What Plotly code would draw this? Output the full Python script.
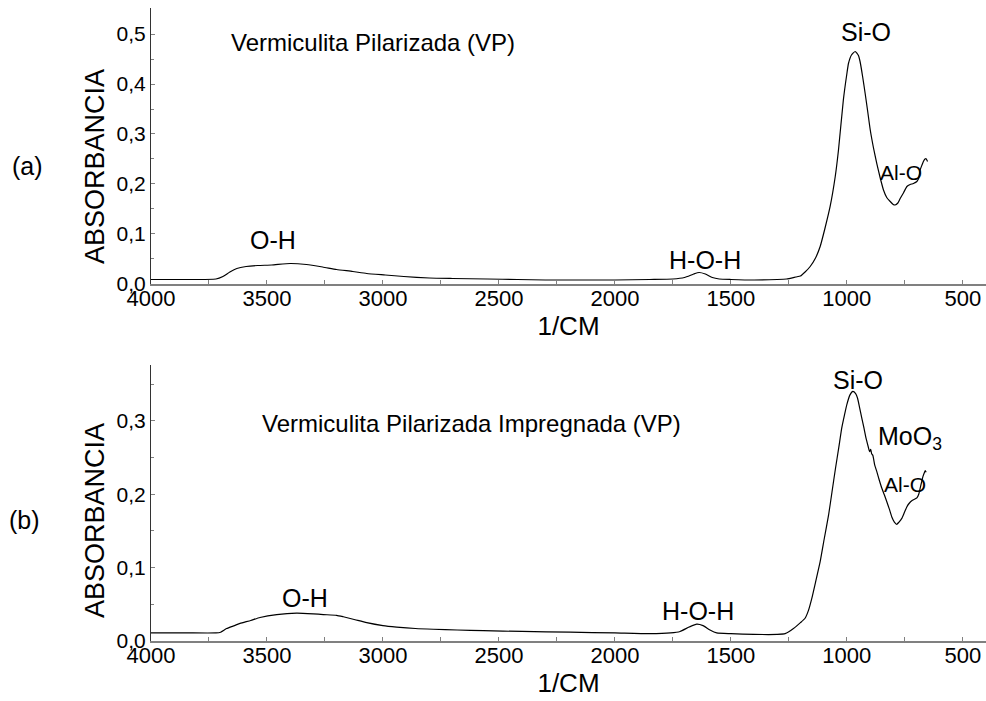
import plotly.graph_objects as go

# ---------------- data ----------------
wn_a = [4000, 3850, 3720, 3690, 3660, 3630, 3590, 3540, 3480, 3400, 3330, 3260, 3200, 3130,
        3070, 2990, 2910, 2800, 2700, 2550, 2420, 2300, 2190, 2000, 1850, 1750, 1700, 1660,
        1637, 1610, 1580, 1550, 1500, 1400, 1300, 1260, 1220, 1200, 1180, 1158, 1135, 1115,
        1095, 1072, 1050, 1036, 1015, 1000, 993, 980, 964, 950, 943, 932, 921, 910, 899, 885,
        871, 856, 842, 828, 813, 800, 792, 780, 770, 755, 741, 727, 713, 698, 690, 684, 676,
        670, 663, 659, 655, 652]
abs_a = [0.009, 0.009, 0.010, 0.015, 0.024, 0.031, 0.035, 0.037, 0.038, 0.041, 0.039, 0.034,
         0.029, 0.025, 0.021, 0.018, 0.015, 0.012, 0.011, 0.010, 0.009, 0.008, 0.008, 0.008,
         0.009, 0.010, 0.013, 0.020, 0.023, 0.020, 0.013, 0.010, 0.009, 0.008, 0.009, 0.010,
         0.014, 0.016, 0.024, 0.035, 0.052, 0.075, 0.110, 0.155, 0.215, 0.268, 0.368, 0.420,
         0.441, 0.458, 0.465, 0.457, 0.445, 0.415, 0.381, 0.345, 0.308, 0.272, 0.241, 0.212,
         0.188, 0.173, 0.165, 0.159, 0.158, 0.162, 0.171, 0.183, 0.195, 0.199, 0.201, 0.205,
         0.212, 0.228, 0.238, 0.245, 0.250, 0.251, 0.248, 0.245]

wn_b = [4000, 3850, 3720, 3700, 3674, 3640, 3616, 3570, 3530, 3458, 3372, 3300, 3257, 3200,
        3171, 3120, 3070, 3000, 2941, 2860, 2783, 2680, 2567, 2400, 2193, 2000, 1850, 1760,
        1719, 1680, 1647, 1620, 1590, 1561, 1500, 1400, 1300, 1266, 1230, 1200, 1180, 1165,
        1151, 1135, 1115, 1097, 1079, 1064, 1049, 1035, 1022, 1010, 1000, 987, 974, 962, 954,
        945, 935, 926, 917, 908, 902, 897, 893, 888, 880, 871, 860, 849, 838, 828, 817, 806,
        795, 785, 775, 763, 752, 741, 730, 720, 709, 698, 690, 684, 678, 672, 665, 662, 658]
abs_b = [0.011, 0.011, 0.011, 0.012, 0.017, 0.021, 0.024, 0.028, 0.032, 0.036, 0.038, 0.037,
         0.036, 0.035, 0.033, 0.029, 0.025, 0.021, 0.019, 0.017, 0.016, 0.015, 0.014, 0.013,
         0.012, 0.011, 0.010, 0.011, 0.013, 0.019, 0.023, 0.021, 0.015, 0.011, 0.010, 0.009,
         0.009, 0.010, 0.017, 0.025, 0.031, 0.042, 0.058, 0.080, 0.108, 0.140, 0.171, 0.203,
         0.235, 0.263, 0.290, 0.308, 0.322, 0.335, 0.340, 0.337, 0.331, 0.318, 0.303, 0.290,
         0.276, 0.265, 0.258, 0.261, 0.255, 0.253, 0.240, 0.231, 0.219, 0.208, 0.199, 0.190,
         0.180, 0.169, 0.162, 0.159, 0.162, 0.167, 0.175, 0.183, 0.188, 0.191, 0.193, 0.195,
         0.200, 0.208, 0.216, 0.224, 0.230, 0.232, 0.230]

x_tickvals = [4000, 3500, 3000, 2500, 2000, 1500, 1000, 500]
x_ticktext = ["4000", "3500", "3000", "2500", "2000", "1500", "1000", "500"]
ya_tickvals = [0.0, 0.1, 0.2, 0.3, 0.4, 0.5]
ya_ticktext = ["0,0", "0,1", "0,2", "0,3", "0,4", "0,5"]
yb_tickvals = [0.0, 0.1, 0.2, 0.3]
yb_ticktext = ["0,0", "0,1", "0,2", "0,3"]

FONT = "Arial, Liberation Sans, sans-serif"

fig = go.Figure()
fig.add_trace(go.Scatter(x=wn_a, y=abs_a, mode="lines", line=dict(color="black", width=1.2, shape="spline", smoothing=0.5),
                         xaxis="x", yaxis="y", showlegend=False, hoverinfo="skip"))
fig.add_trace(go.Scatter(x=wn_b, y=abs_b, mode="lines", line=dict(color="black", width=1.2, shape="spline", smoothing=0.5),
                         xaxis="x2", yaxis="y2", showlegend=False, hoverinfo="skip"))

def xaxis_cfg(anchor):
    return dict(
        anchor=anchor, domain=[0, 1], range=[4000, 400], autorange=False,
        tickvals=x_tickvals, ticktext=x_ticktext,
        ticks="inside", ticklen=4, tickcolor="#808080", tickwidth=1,
        minor=dict(dtick=250, tick0=0, ticks="inside", ticklen=4, tickcolor="#808080"),
        showline=True, linecolor="#808080", linewidth=2,
        showgrid=False, zeroline=False, ticklabelstandoff=-6,
        tickfont=dict(size=22, color="black", family=FONT),
        title=dict(text="1/CM", font=dict(size=26, color="black", family=FONT), standoff=6),
    )

def yaxis_cfg(anchor, dom, rng, tv, tt):
    return dict(
        anchor=anchor, domain=dom, range=rng, autorange=False,
        tickvals=tv, ticktext=tt,
        ticks="inside", ticklen=4, tickcolor="#808080", tickwidth=1,
        minor=dict(dtick=0.05, tick0=0, ticks="inside", ticklen=3, tickcolor="#808080"),
        showline=True, linecolor="#333333", linewidth=1,
        showgrid=False, zeroline=False,
        tickfont=dict(size=21, color="black", family=FONT),
    )

fig.update_layout(
    width=986, height=701,
    margin=dict(l=151, r=0, t=8, b=60),
    paper_bgcolor="white", plot_bgcolor="white",
    font=dict(family=FONT, color="black"),
    xaxis=xaxis_cfg("y"),
    yaxis=yaxis_cfg("x", [0.564, 1.0], [0, 0.552], ya_tickvals, ya_ticktext),
    xaxis2=xaxis_cfg("y2"),
    yaxis2=yaxis_cfg("x2", [0.0, 0.436], [0, 0.376], yb_tickvals, yb_ticktext),
)

ann = []
def add(text, x, y, xref, yref, size, xanchor="center", angle=0):
    ann.append(dict(text=text, x=x, y=y, xref=xref, yref=yref, showarrow=False, textangle=angle,
                    font=dict(size=size, color="black", family=FONT), xanchor=xanchor, yanchor="middle"))

# panel (a)
add("Vermiculita Pilarizada (VP)", 3043, 0.484, "x", "y", 24)
add("O-H", 3474, 0.088, "x", "y", 25)
add("H-O-H", 1611, 0.048, "x", "y", 25)
add("Si-O", 917, 0.504, "x", "y", 25)
add("Al-O", 766, 0.222, "x", "y", 21)
# panel (b)
add("Vermiculita Pilarizada Impregnada (VP)", 2620, 0.297, "x2", "y2", 24)
add("O-H", 3336, 0.059, "x2", "y2", 25)
add("H-O-H", 1641, 0.041, "x2", "y2", 25)
add("Si-O", 951, 0.356, "x2", "y2", 25)
add("MoO<sub>3</sub>", 874, 0.276, "x2", "y2", 25, xanchor="left")
add("Al-O", 749, 0.213, "x2", "y2", 21)
# y-axis titles
add("ABSORBANCIA", -0.0671, 0.7504, "paper", "paper", 27, angle=-90)
add("ABSORBANCIA", -0.0671, 0.191, "paper", "paper", 27, angle=-90)
# panel letters
add("(a)", -0.1485, 0.750, "paper", "paper", 25)
add("(b)", -0.151, 0.191, "paper", "paper", 25)

fig.update_layout(annotations=ann)
fig.write_html("out.html")
